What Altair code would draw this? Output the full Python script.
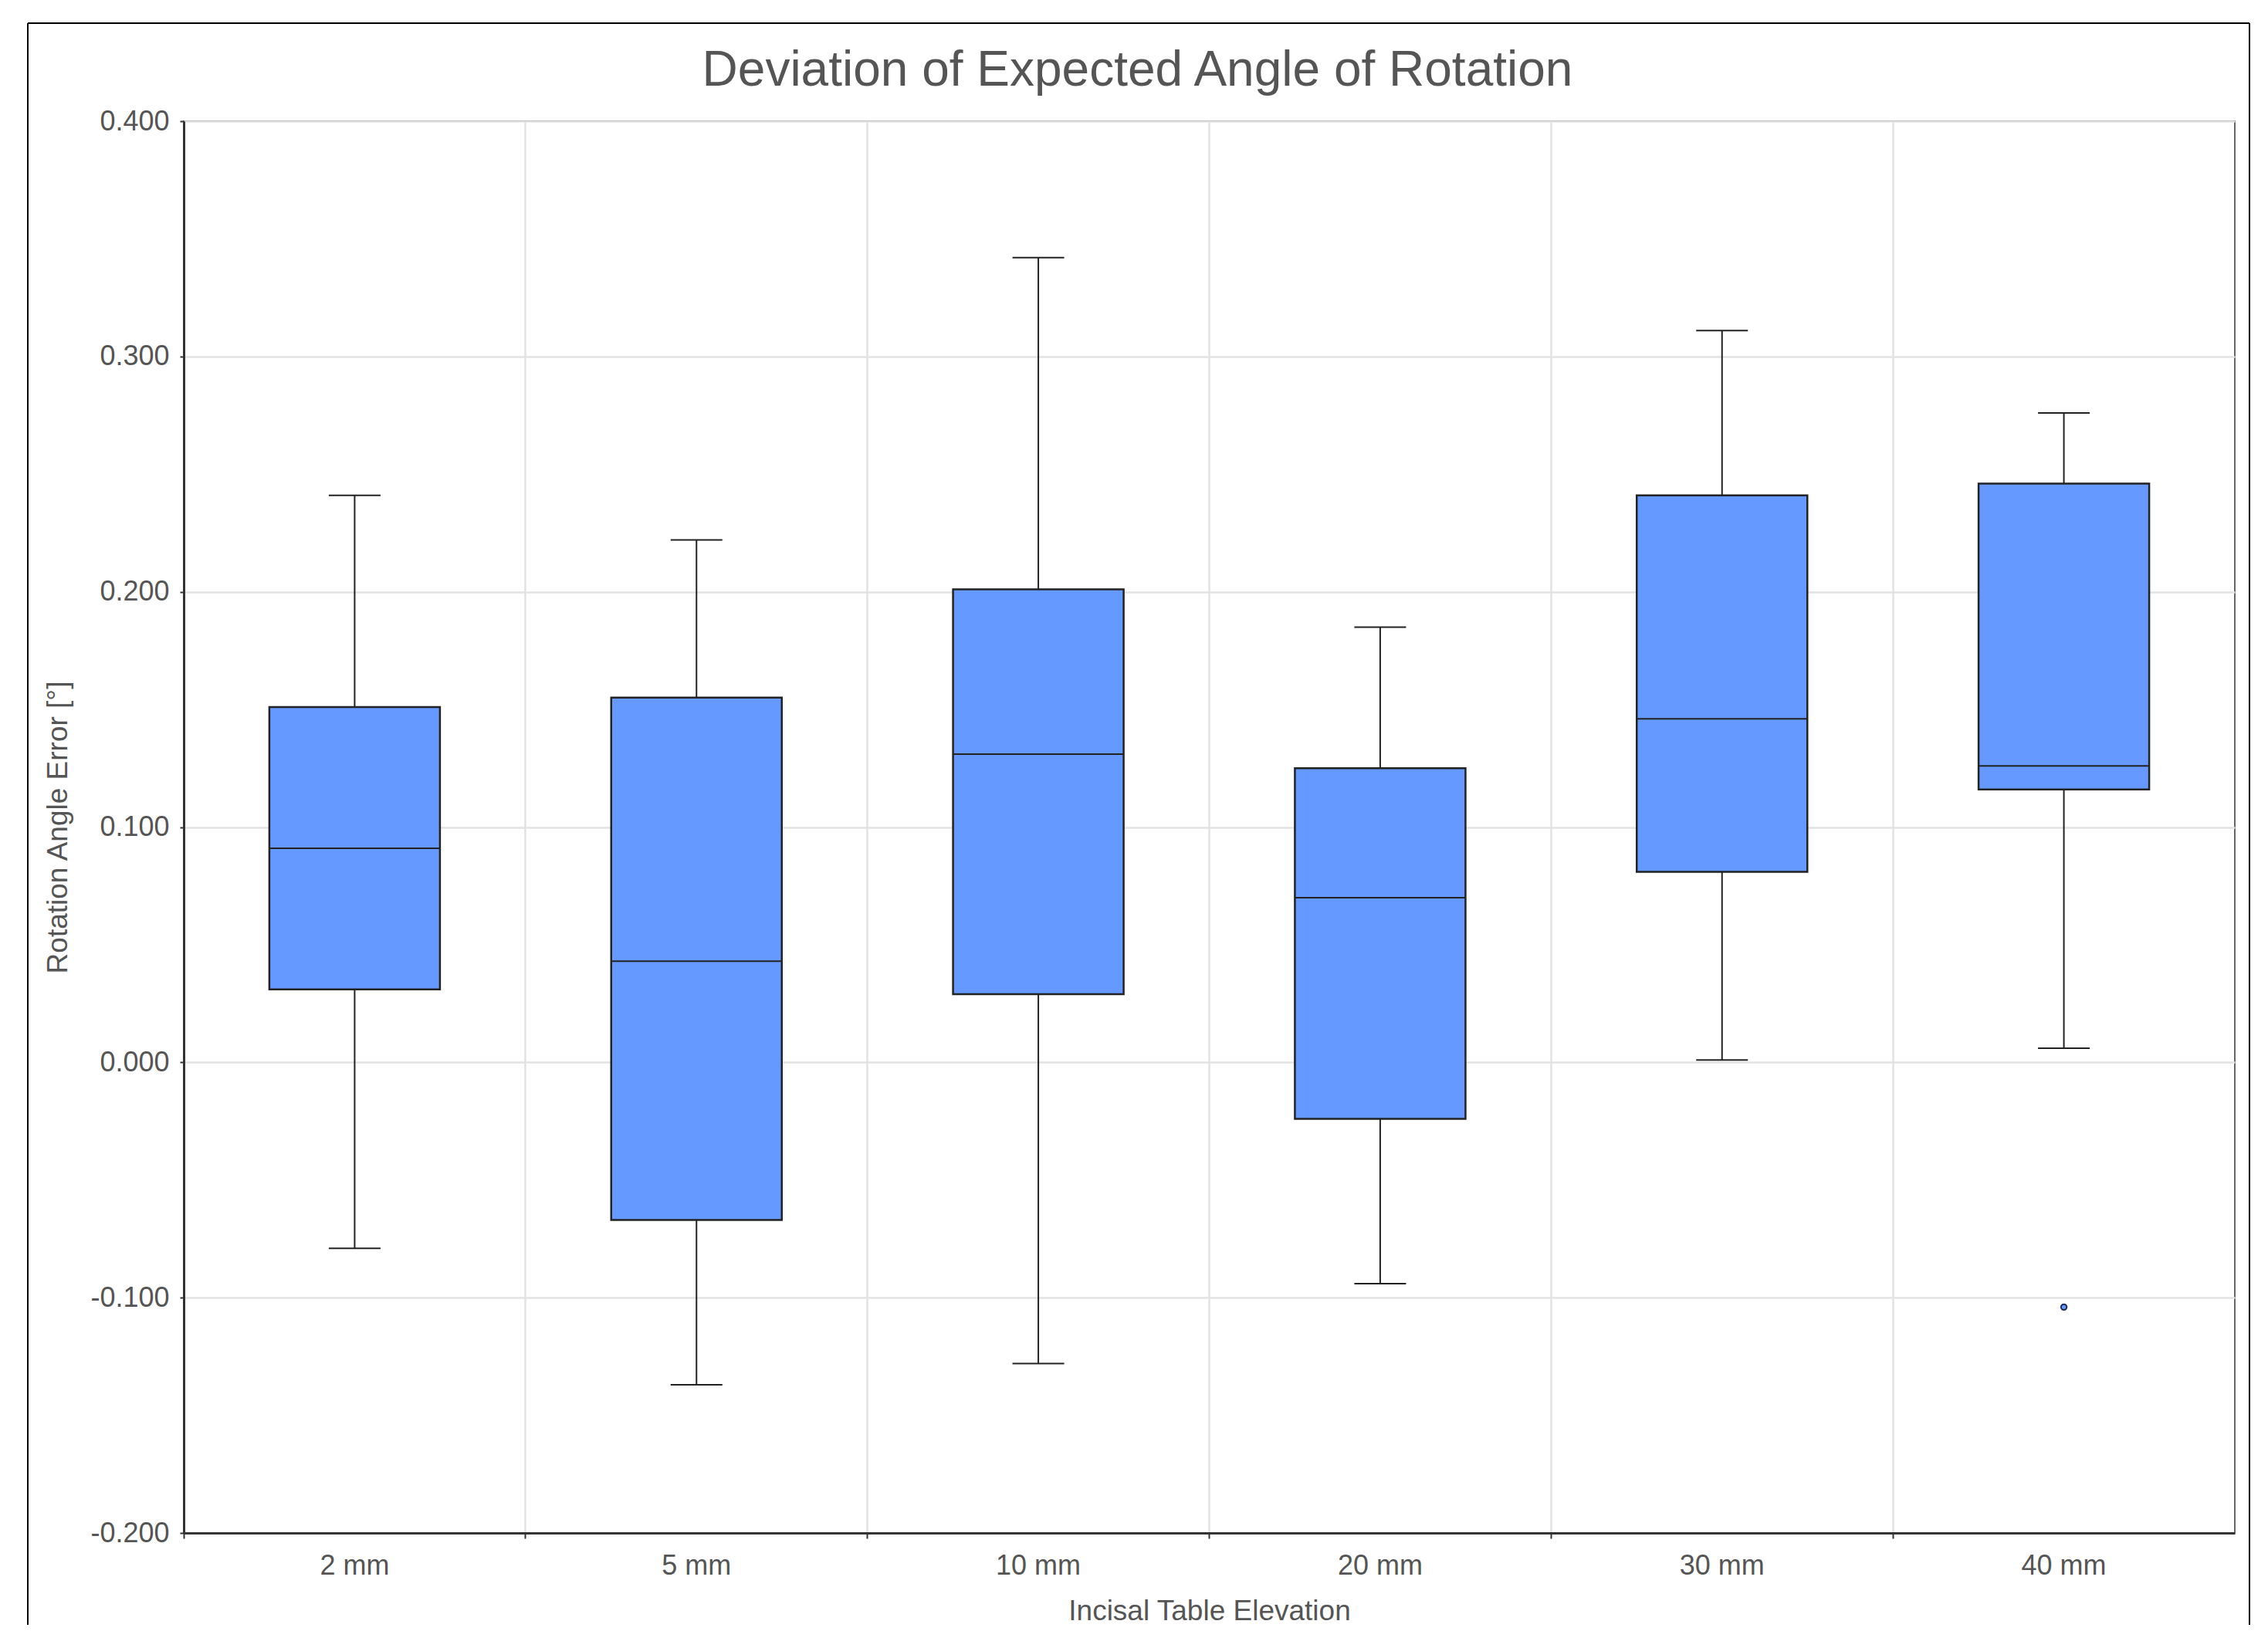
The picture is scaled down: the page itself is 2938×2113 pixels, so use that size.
import altair as alt
import pandas as pd

# ---- data ----
categories = ["2 mm", "5 mm", "10 mm", "20 mm", "30 mm", "40 mm"]
whisker_low = [-0.079, -0.137, -0.128, -0.094, 0.001, 0.006]
q1 = [0.031, -0.067, 0.029, -0.024, 0.081, 0.116]
median = [0.091, 0.043, 0.131, 0.070, 0.146, 0.126]
q3 = [0.151, 0.155, 0.201, 0.125, 0.241, 0.246]
whisker_high = [0.241, 0.222, 0.342, 0.185, 0.311, 0.276]
outlier_cat = ["40 mm"]
outlier_val = [-0.104]
y_ticks = [-0.2, -0.1, 0.0, 0.1, 0.2, 0.3, 0.4]

df = pd.DataFrame({
    "elev": categories,
    "lo": whisker_low,
    "q1": q1,
    "med": median,
    "q3": q3,
    "hi": whisker_high,
})
out_df = pd.DataFrame({"elev": outlier_cat, "val": outlier_val})

TEXT = "#555555"
FONT = "Liberation Sans"
BOX = "#6699ff"
LINE = "#222222"

W, H = 2657, 1829
PAD_L, PAD_T, PAD_R, PAD_B = 230, 149, 30, 119

xscale = alt.Scale(domain=categories, paddingInner=0, paddingOuter=0)
yscale = alt.Scale(domain=[-0.2, 0.4], nice=False, zero=False)

xaxis = alt.Axis(
    title="Incisal Table Elevation", labelAngle=0, bandPosition=0,
    grid=True, ticks=True, tickSize=7, tickColor="#333333", tickWidth=2,
    labelPadding=18, titlePadding=23,
)
yaxis = alt.Axis(
    title="Rotation Angle Error [°]", values=y_ticks, format=".3f",
    labelExpr="replace(datum.label, '\u2212', '-')",
    grid=True, tickSize=5, tickColor="#333333", tickWidth=2,
    labelPadding=14, titlePadding=22,
)


def X():
    return alt.X("elev:N", scale=xscale, axis=xaxis, sort=categories)


def Y(field):
    return alt.Y(f"{field}:Q", scale=yscale, axis=yaxis, title="Rotation Angle Error [°]")


base = alt.Chart(df)

lower = base.mark_rule(color=LINE, strokeWidth=2).encode(x=X(), y=Y("lo"), y2="q1:Q")
upper = base.mark_rule(color=LINE, strokeWidth=2).encode(x=X(), y=Y("q3"), y2="hi:Q")
box = base.mark_bar(size=221, fill=BOX, stroke=LINE, strokeWidth=2.5).encode(
    x=X(), y=Y("q1"), y2="q3:Q")
med = base.mark_tick(size=221, thickness=2, color=LINE, opacity=1).encode(x=X(), y=Y("med"))
cap_lo = base.mark_tick(size=67, thickness=2, color=LINE, opacity=1).encode(x=X(), y=Y("lo"))
cap_hi = base.mark_tick(size=67, thickness=2, color=LINE, opacity=1).encode(x=X(), y=Y("hi"))
pts = alt.Chart(out_df).mark_point(
    shape="circle", size=55, fill=BOX, stroke="#1c2b5a", strokeWidth=2,
    fillOpacity=1, strokeOpacity=1, opacity=1,
).encode(x=X(), y=Y("val"))

# decorative outer frame (left, top, right edges)
frame_df = pd.DataFrame({"k": [0]})
fl = alt.Chart(frame_df).mark_rule(color="#000000", strokeWidth=2).encode(
    x=alt.value(-202), y=alt.value(-127), y2=alt.value(H + PAD_B))
fr = alt.Chart(frame_df).mark_rule(color="#000000", strokeWidth=2).encode(
    x=alt.value(2676), y=alt.value(-127), y2=alt.value(H + PAD_B))
ft = alt.Chart(frame_df).mark_rule(color="#000000", strokeWidth=2).encode(
    x=alt.value(-202), x2=alt.value(2676), y=alt.value(-127))

chart = alt.layer(
    lower, upper, box, med, cap_lo, cap_hi, pts, fl, fr, ft
).properties(
    width=W, height=H,
    background="white",
    title=alt.TitleParams(
        "Deviation of Expected Angle of Rotation", fontSize=64, font=FONT,
        color=TEXT, fontWeight="normal", anchor="middle", frame="group",
        dx=-93, offset=-146, baseline="alphabetic",
    ),
    autosize=alt.AutoSizeParams(type="none"),
    padding={"left": PAD_L, "top": PAD_T, "right": PAD_R, "bottom": PAD_B},
).configure_view(
    stroke="#666666", strokeWidth=2,
).configure_axis(
    labelFont=FONT, titleFont=FONT, labelFontSize=36, titleFontSize=37,
    labelColor=TEXT, titleColor=TEXT, titleFontWeight="normal",
    gridColor="#e2e2e2", gridWidth=2.5,
    domainColor="#333333", domainWidth=3,
)

chart.save("out.html", embed_options={"renderer": "svg", "actions": False})
